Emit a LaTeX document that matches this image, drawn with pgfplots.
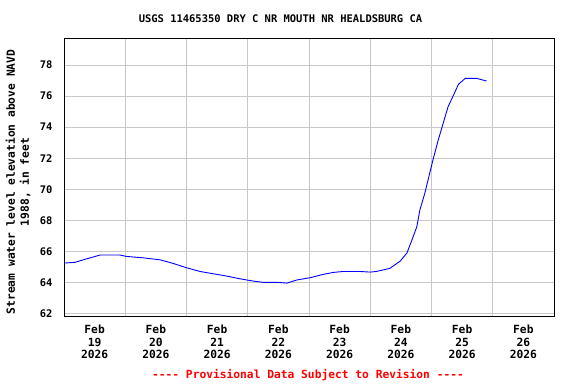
\documentclass[border=0pt]{standalone}
\usepackage{pgfplots}
\pgfplotsset{compat=1.18}
\usepackage{fontspec}
\setmainfont{DejaVu Sans Mono}[Ligatures=TeXOff]
\definecolor{gridgray}{RGB}{200,200,200}
\begin{document}
\begin{tikzpicture}[x=1bp,y=1bp]
\useasboundingbox (0,0) rectangle (576,384);
\begin{axis}[
  at={(64bp,68bp)}, anchor=south west,
  scale only axis, width=490bp, height=277bp,
  xmin=0, xmax=8, ymin=61.83, ymax=79.68,
  xtick={0.5,1.5,2.5,3.5,4.5,5.5,6.5,7.5},
  xticklabels={Feb\\19\\2026,Feb\\20\\2026,Feb\\21\\2026,Feb\\22\\2026,Feb\\23\\2026,Feb\\24\\2026,Feb\\25\\2026,Feb\\26\\2026},
  minor xtick={1,2,3,4,5,6,7},
  ytick={62,64,66,68,70,72,74,76,78},
  ymajorgrids, xminorgrids,
  major grid style={gridgray, line width=1bp},
  minor grid style={gridgray, line width=1bp},
  major tick length=0pt, minor tick length=0pt,
  axis line style={black, line width=1bp},
  /pgf/number format/assume math mode=true,
  xticklabel style={font=\fontsize{11.3}{13}\selectfont\bfseries, align=center, yshift=-5bp},
  yticklabel style={font=\fontsize{10.5}{12}\selectfont\bfseries, xshift=-8bp},
]
\addplot[color={rgb,255:red,0;green,0;blue,255}, line width=0.9bp] coordinates {
(0,65.24)(0.18,65.29)(0.34,65.48)(0.59,65.76)(0.91,65.76)(1.02,65.67)(1.29,65.58)(1.57,65.45)(1.78,65.22)(2.00,64.94)(2.22,64.70)(2.44,64.55)(2.66,64.40)(2.87,64.23)(3.09,64.08)(3.25,64.00)(3.47,64.00)(3.64,63.95)(3.80,64.15)(4.02,64.30)(4.23,64.51)(4.40,64.64)(4.56,64.70)(4.83,64.70)(5.00,64.66)(5.10,64.70)(5.32,64.90)(5.49,65.37)(5.60,65.90)(5.68,66.72)(5.76,67.58)(5.81,68.66)(5.89,69.73)(5.97,71.02)(6.03,71.99)(6.11,73.17)(6.19,74.24)(6.27,75.31)(6.36,76.07)(6.44,76.76)(6.55,77.14)(6.74,77.14)(6.90,76.97)
};
\end{axis}
\node[font=\fontsize{10.5}{12}\selectfont\bfseries] at (280.5,365) {USGS 11465350 DRY C NR MOUTH NR HEALDSBURG CA};
\node[font=\fontsize{11.3}{14}\selectfont\bfseries, rotate=90, align=center] at (18,202) {Stream water level elevation above NAVD\\1988, in feet};
\node[font=\fontsize{11.3}{13}\selectfont\bfseries, text=red] at (308,9) {---- Provisional Data Subject to Revision ----};
\end{tikzpicture}
\end{document}
